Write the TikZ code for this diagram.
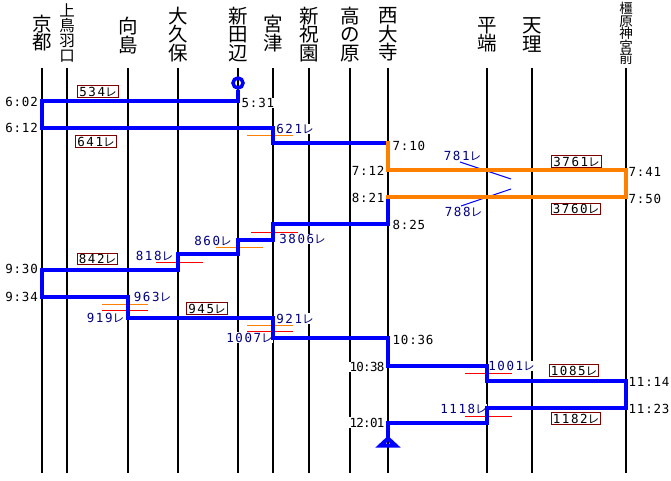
\documentclass[tikz,border=0pt]{standalone}
\usepackage{fontspec}
\newfontfamily\jpfont{Noto Sans CJK JP}
\newfontfamily\numfont[LetterSpace=12]{DejaVu Sans Mono}
\newfontfamily\timefont[LetterSpace=6]{DejaVu Sans Mono}
\newfontfamily\timefontc[LetterSpace=-6]{DejaVu Sans Mono}
\definecolor{navy}{RGB}{0,0,128}
\definecolor{routeblue}{RGB}{0,0,255}
\definecolor{routeorange}{RGB}{255,128,0}
\definecolor{linered}{RGB}{255,0,0}
\definecolor{boxred}{RGB}{128,0,0}
\newcommand\trainno[1]{{\numfont\fontsize{12.5}{12.5}\selectfont #1}{\jpfont\fontsize{11.5}{11.5}\selectfont レ}}
\tikzset{
  stn/.style={align=center, inner sep=0pt, font=\jpfont\fontsize{19.5}{18.3}\selectfont},
  stnfour/.style={align=center, inner sep=0pt, font=\jpfont\fontsize{15.5}{15}\selectfont},
  stnfive/.style={align=center, inner sep=0pt, font=\jpfont\fontsize{13.5}{12.6}\selectfont},
  vline/.style={line width=2pt, black},
  tm/.style={inner sep=0.5pt, fill=white, font=\timefont\fontsize{12.5}{12.5}\selectfont},
  tmc/.style={inner sep=0.5pt, fill=white, font=\timefontc\fontsize{12.5}{12.5}\selectfont},
  trn/.style={inner sep=0.5pt, fill=white, text=navy},
  boxed/.style={draw=boxred, line width=1pt, fill=white, inner xsep=1.5pt, inner ysep=1.2pt},
  route/.style={line width=4pt, draw=routeblue, line join=miter},
  oroute/.style={line width=4pt, draw=routeorange, line join=miter},
  tick/.style={line width=1pt},
}
\begin{document}
\begin{tikzpicture}[x=1pt,y=-1pt]
\useasboundingbox (0,0) rectangle (671,481);
\fill[white] (0,0) rectangle (671,481);
% station lines
\foreach \n/\x in {kyoto/42,kamitoba/67,mukaijima/128,okubo/178,shintanabe/238,miyazu/273,shinhosono/309,takanohara/350,saidaiji/388,hirahata/487,tenri/532,kashihara/626}{
  \coordinate (\n-t) at (\x,68);
  \coordinate (\n-b) at (\x,473);
  \draw[vline] (\n-t) -- (\n-b);
}
% station names
\node[stn] (L-kyoto) at (42,33) {京\\都};
\node[stnfour] (L-kamitoba) at (67,33) {上\\鳥\\羽\\口};
\node[stn] (L-mukaijima) at (128,35.5) {向\\島};
\node[stn] (L-okubo) at (178,34.5) {大\\久\\保};
\node[stn] (L-shintanabe) at (238,34.5) {新\\田\\辺};
\node[stn] (L-miyazu) at (273,33.5) {宮\\津};
\node[stn] (L-shinhosono) at (309,34.5) {新\\祝\\園};
\node[stn] (L-takanohara) at (350,34.5) {高\\の\\原};
\node[stn] (L-saidaiji) at (388,34.5) {西\\大\\寺};
\node[stn] (L-hirahata) at (487,35) {平\\端};
\node[stn] (L-tenri) at (532,35) {天\\理};
\node[stnfive] (L-kashihara) at (626,33.5) {橿\\原\\神\\宮\\前};
% times
\node[tm, anchor=west] (t0531) at (241,103) {5:31};
\node[tm, anchor=east] (t0602) at (38.5,102) {6:02};
\node[tm, anchor=east] (t0612) at (38.5,128) {6:12};
\node[tm, anchor=west] (t0710) at (392,146) {7:10};
\node[tm, anchor=east] (t0712) at (385,171) {7:12};
\node[tm, anchor=east] (t0821) at (385,198) {8:21};
\node[tm, anchor=west] (t0741) at (628,172) {7:41};
\node[tm, anchor=west] (t0750) at (628,199) {7:50};
\node[tm, anchor=west] (t0825) at (392,225) {8:25};
\node[tm, anchor=east] (t0930) at (38.5,269) {9:30};
\node[tm, anchor=east] (t0934) at (38.5,297) {9:34};
\node[tm, anchor=west] (t1036) at (392,339.5) {10:36};
\node[tmc, anchor=east] (t1038) at (385,367) {10:38};
\node[tm, anchor=west] (t1114) at (628,381.5) {11:14};
\node[tm, anchor=west] (t1123) at (628,408.5) {11:23};
\node[tmc, anchor=east] (t1201) at (385,422.5) {12:01};
% train numbers (plain)
\node[trn] (n621) at (295,129) {\trainno{621}};
\node[trn] (n781) at (462.5,156) {\trainno{781}};
\node[trn] (n788) at (463.5,212) {\trainno{788}};
\node[trn] (n860) at (213,240.5) {\trainno{860}};
\node[trn] (n3806) at (302.5,239) {\trainno{3806}};
\node[trn] (n818) at (154.5,256) {\trainno{818}};
\node[trn] (n963) at (152.5,297) {\trainno{963}};
\node[trn] (n919) at (105.5,317.5) {\trainno{919}};
\node[trn] (n921) at (295,318.5) {\trainno{921}};
\node[trn] (n1007) at (249.5,337.5) {\trainno{1007}};
\node[trn] (n1001) at (511.5,366) {\trainno{1001}};
\node[trn] (n1118) at (463.5,409) {\trainno{1118}};
% train numbers (boxed)
\node[boxed] (b534) at (98,91.5) {\trainno{534}};
\node[boxed] (b641) at (96,141.5) {\trainno{641}};
\node[boxed] (b3761) at (576.5,161.5) {\trainno{3761}};
\node[boxed] (b3760) at (576,209) {\trainno{3760}};
\node[boxed] (b842) at (97.5,259) {\trainno{842}};
\node[boxed] (b945) at (207,308.5) {\trainno{945}};
\node[boxed] (b1085) at (574,370.5) {\trainno{1085}};
\node[boxed] (b1182) at (576,418.5) {\trainno{1182}};
% short connection marks
\foreach \n/\xa/\xb/\y/\c in {
  m621/247/293/136/routeorange,
  m860/216/263/247/routeorange,
  m3806/251/298/232/linered,
  m818/156/203/262/linered,
  m963/102/148/304/routeorange,
  m919/102/148/310/linered,
  m921/247/293/325/routeorange,
  m1007/247/293/331/linered,
  m1001/465/512/373/linered,
  m1118/465/512/416/linered}{
  \coordinate (\n-a) at (\xa,\y);
  \coordinate (\n-b) at (\xb,\y);
  \draw[tick, draw=\c] (\n-a) -- (\n-b);
}
\coordinate (m781-a) at (460,162);
\coordinate (m781-b) at (511,179);
\coordinate (m788-a) at (511,189);
\coordinate (m788-b) at (461,206);
\draw[tick, draw=routeblue] (m781-a) -- (m781-b);
\draw[tick, draw=routeblue] (m788-a) -- (m788-b);
% route points
\foreach \n/\x/\y in {
 a1/238/101, a2/42/101, a3/42/128, a4/273/128, a5/273/143, a6/388/143,
 o0/388/141, o1/388/170, o2/626/170, o3/626/197, o4/386/197,
 c0/388/199, c1/388/224, c2/273/224, c3/273/240, c4/238/240, c5/238/254,
 c6/178/254, c7/178/270, c8/42/270, c9/42/297, c10/128/297, c11/128/318,
 c12/273/318, c13/273/338, c14/388/338, c15/388/366, c16/487/366,
 c17/487/381, c18/626/381, c19/626/408, c20/487/408, c21/487/423,
 c22/388/423, c23/388/438}{
  \coordinate (\n) at (\x,\y);
}
% start circle
\node[circle, draw=routeblue, line width=3.5pt, minimum size=10pt, inner sep=0pt] (start) at (238,83) {};
\draw[route] (start.south) -- (a1) -- (a2) -- (a3) -- (a4) -- (a5) -- (a6);
\draw[oroute] (o0) -- (o1) -- (o2) -- (o3) -- (o4);
\draw[route] (c0) -- (c1) -- (c2) -- (c3) -- (c4) -- (c5) -- (c6) -- (c7) -- (c8) -- (c9) -- (c10) -- (c11) -- (c12) -- (c13) -- (c14) -- (c15) -- (c16) -- (c17) -- (c18) -- (c19) -- (c20) -- (c21) -- (c22) -- (c23);
% goal triangle
\coordinate (g1) at (388,438.5);
\coordinate (g2) at (380.5,445.5);
\coordinate (g3) at (395.5,445.5);
\draw[routeblue, line width=4pt, line join=miter] (g1) -- (g2) -- (g3) -- cycle;
\end{tikzpicture}
\end{document}
